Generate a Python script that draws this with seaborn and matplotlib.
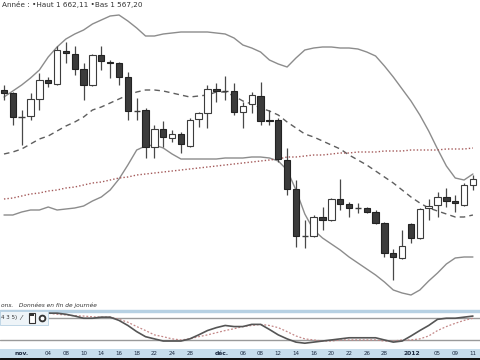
import matplotlib
matplotlib.use("Agg")
import numpy as np
import pandas as pd
import seaborn as sns
import matplotlib.pyplot as plt
from matplotlib.patches import Rectangle, Circle

# ---------------- data ----------------
dates = pd.bdate_range("2011-10-28", "2012-01-11")
opens = [1205, 1203.5, 1191.5, 1192, 1200.5, 1210, 1208, 1224.5, 1223, 1215.5,
         1207.5, 1222.5, 1219, 1218.5, 1211.5, 1194.5, 1195, 1176.5, 1185.5, 1181,
         1183, 1177, 1190.5, 1193.5, 1205.5, 1204.5, 1204.5, 1194, 1198, 1202,
         1190, 1190, 1170, 1155.5, 1132, 1132, 1141.5, 1140, 1150.5, 1148,
         1146, 1146, 1144, 1138.5, 1123.5, 1121, 1138, 1131, 1146, 1147.5,
         1151.5, 1149.5, 1147.5, 1157.5]
highs = [1207.5, 1204, 1195, 1203.5, 1213.5, 1211.5, 1227, 1229, 1227, 1218.5,
         1223, 1227, 1220, 1219, 1214, 1201, 1196, 1187.5, 1189.5, 1185,
         1184, 1191, 1194, 1207.5, 1208.5, 1212, 1208.5, 1199, 1204, 1209,
         1195, 1191, 1176, 1160, 1140, 1142.5, 1146.5, 1151, 1160.5, 1149,
         1148.5, 1146.5, 1145, 1139, 1125.5, 1135, 1138.5, 1146, 1150.5, 1154,
         1156, 1152.5, 1158.5, 1162.5]
lows = [1200, 1187.5, 1177.5, 1190, 1195, 1206.5, 1207.5, 1218.5, 1212.5, 1200,
        1207, 1215, 1211, 1207.5, 1190, 1190, 1171, 1171, 1176.5, 1179,
        1173.5, 1176.5, 1186.5, 1186, 1199, 1200, 1192.5, 1186, 1193.5, 1187.5,
        1187.5, 1169, 1152.5, 1126.5, 1126, 1131.5, 1135, 1139.5, 1145, 1141.5,
        1143.5, 1143.5, 1138, 1121.5, 1110, 1120.5, 1128.5, 1130.5, 1140, 1141.5,
        1146.5, 1144, 1147, 1155]
closes = [1203.5, 1191.5, 1191.5, 1200.5, 1210, 1208.5, 1225, 1223.5, 1215.5, 1207.5,
          1222.5, 1219.5, 1218.5, 1211.5, 1194.5, 1194.5, 1176.5, 1185.5, 1181.5, 1183,
          1178, 1190, 1193.5, 1205.5, 1204.5, 1204.5, 1194, 1197, 1202.5, 1189.5,
          1189.5, 1170.5, 1155.5, 1132, 1132, 1141.5, 1140, 1150.5, 1148, 1146,
          1146, 1144, 1138.5, 1123.5, 1121.5, 1127, 1131, 1145.5, 1147, 1151.5,
          1149.5, 1148.5, 1157.5, 1160.5]

boll_upper = [1201.5, 1204.5, 1207.5, 1211, 1215, 1221.5, 1226.5, 1230.5, 1233, 1235,
              1238, 1240, 1242, 1242.5, 1239.5, 1236, 1232, 1232, 1233, 1233.5,
              1234, 1234, 1234, 1234, 1233.5, 1233, 1231, 1227.5, 1226, 1224,
              1220, 1218, 1216.5, 1221, 1225, 1226, 1226.5, 1226.5, 1226, 1226,
              1225.5, 1224, 1222, 1217, 1211.5, 1205.5, 1199.5, 1192.5, 1184.5, 1175.5,
              1167, 1161, 1160, 1163]
boll_mid = [1173, 1174, 1175.5, 1178, 1180.5, 1182, 1184.5, 1187, 1189, 1191.5,
            1195, 1196.5, 1198.5, 1200.5, 1202.5, 1204, 1205, 1205, 1204.5, 1203.5,
            1202.5, 1201.5, 1202, 1202.5, 1204, 1204, 1202, 1199.5, 1198, 1196,
            1194.5, 1192.5, 1189, 1186, 1183, 1181.5, 1179.5, 1177.5, 1175.5, 1172.5,
            1170, 1167.5, 1164.5, 1161.5, 1158.5, 1155, 1151.5, 1148.5, 1146, 1144.5,
            1143, 1141.5, 1141.5, 1142.5]
boll_lower = [1142.5, 1142.5, 1144, 1145, 1145, 1146.5, 1145, 1145.5, 1146, 1147,
              1149.5, 1151.5, 1155, 1160.5, 1167.5, 1175, 1177, 1177.5, 1176, 1173,
              1170.5, 1170.5, 1170.5, 1170.5, 1170.5, 1171, 1171, 1171, 1171.5, 1171.5,
              1171, 1169.5, 1165, 1155, 1143, 1135, 1131, 1128, 1125, 1121.5,
              1118.5, 1115.5, 1112.5, 1109, 1105, 1103.5, 1102.5, 1105, 1109.5, 1113.5,
              1118, 1121, 1121.5, 1121.5]
ma_long = [1150.5, 1151, 1152, 1153, 1153.5, 1154.5, 1155, 1156, 1156.5, 1157.5,
           1158.5, 1159, 1160, 1161, 1161.5, 1162.5, 1163, 1163.5, 1164, 1164.5,
           1165, 1165.5, 1166, 1166.5, 1167, 1167.5, 1168, 1168.5, 1169, 1169.5,
           1170, 1170.5, 1171.5, 1171.5, 1172, 1172.5, 1172.5, 1173, 1173.5, 1173.5,
           1174, 1174, 1174, 1174.5, 1174.5, 1174.5, 1175, 1175, 1175, 1175,
           1175.5, 1175.5, 1175.5, 1176]

stoch_k = [94, 94, 94, 94, 94, 94, 94, 91, 86, 80,
           80, 83, 83, 74, 60, 43, 29, 23, 17, 17,
           17, 23, 34, 46, 54, 60, 57, 57, 63, 63,
           49, 34, 23, 14, 11, 14, 17, 20, 23, 26,
           26, 26, 26, 20, 14, 17, 31, 46, 60, 77,
           80, 80, 83, 86]
stoch_d = [94, 94, 94, 94, 94, 94, 91, 89, 87, 86,
           84, 83, 83, 77, 69, 57, 46, 34, 29, 23,
           20, 23, 29, 34, 40, 46, 51, 57, 60, 63,
           60, 54, 43, 31, 23, 20, 17, 17, 20, 20,
           20, 20, 20, 17, 17, 20, 20, 23, 31, 46,
           57, 66, 74, 80]

tick_pos = [2, 5, 7, 9, 11, 13, 15, 17, 19, 21, 24.6, 27, 29, 31, 33, 35, 37,
            39, 41, 43, 46.1, 49, 51, 53]
tick_labels = ["nov.", "04", "08", "10", "14", "16", "18", "22", "24", "28", "déc.",
               "06", "08", "12", "14", "16", "20", "22", "26", "28", "2012",
               "05", "09", "11"]
bold_labels = {"nov.", "déc.", "2012"}

title_text = "Année : •Haut 1 662,11 •Bas 1 567,20"
footer_text = "ons.   Données en fin de journée"
osc_label = "4 3 5)"

# ---------------- figure ----------------
sns.set_theme(style="white")
plt.rcParams["font.family"] = ["DejaVu Sans"]

W, H = 480, 360
fig = plt.figure(figsize=(4.8, 3.6), dpi=100)
fig.patch.set_facecolor("white")

def frac_y(px_top, px_bottom):
    return (H - px_bottom) / H, (px_bottom - px_top) / H

XLIM = (-0.45, 53.8)
idx = np.arange(len(opens))
df = pd.DataFrame({"i": idx, "date": dates[:len(opens)], "open": opens, "high": highs,
                   "low": lows, "close": closes, "upper": boll_upper, "mid": boll_mid,
                   "lower": boll_lower, "ma": ma_long, "k": stoch_k, "d": stoch_d})

# main price panel
b, h = frac_y(0, 305)
ax = fig.add_axes([0, b, 1, h])
ax.set_xlim(*XLIM)
ax.set_ylim(1097.5, 1250)
ax.axis("off")

sns.lineplot(data=df, x="i", y="upper", ax=ax, color="#8c8c8c", lw=1.0, zorder=1)
sns.lineplot(data=df, x="i", y="lower", ax=ax, color="#8c8c8c", lw=1.0, zorder=1)
sns.lineplot(data=df, x="i", y="mid", ax=ax, color="#5e5e5e", lw=1.0,
             dashes=False, linestyle=(0, (4, 3)), zorder=1)
sns.lineplot(data=df, x="i", y="ma", ax=ax, color="#a45a5a", lw=1.0,
             linestyle=(0, (1, 1.5)), zorder=1)

o = df["open"].values; c = df["close"].values
ax.vlines(df["i"], df["low"], df["high"], color="#484848", lw=0.9, zorder=2)
doji = o == c
up = (c > o)
dn = (c < o)
ax.bar(df["i"][up], (c - o)[up], bottom=o[up], width=0.72, color="white",
       edgecolor="#3c3c3c", lw=0.8, zorder=3)
ax.bar(df["i"][dn], (o - c)[dn], bottom=c[dn], width=0.72, color="#3b3b3b",
       edgecolor="#222222", lw=0.8, zorder=3)
ax.hlines(o[doji], df["i"][doji] - 0.36, df["i"][doji] + 0.36, color="#3c3c3c",
          lw=1.0, zorder=3)

fig.text(2 / W, 1 - 5 / H, title_text, fontsize=5.2, color="#333333",
         ha="left", va="center")

# separator and footer text
fig.text(1 / W, 1 - 305.5 / H, footer_text, fontsize=4.2, style="italic",
         color="#333333", ha="left", va="center")
fig.add_artist(Rectangle((0, (H - 311.5) / H), 1, 2 / H, transform=fig.transFigure,
                         color="#b7d1e3", zorder=0))

# oscillator panel
b, h = frac_y(311, 349)
ax2 = fig.add_axes([0, b, 1, h])
ax2.set_xlim(*XLIM)
ax2.set_ylim(-5, 100)
ax2.axis("off")
ax2.axhline(80, color="#9a9a9a", lw=1.0, zorder=1)
ax2.axhline(20, color="#9a9a9a", lw=1.0, zorder=1)
sns.lineplot(data=df, x="i", y="d", ax=ax2, color="#c48888", lw=0.9,
             linestyle=(0, (1.5, 1.5)), zorder=2)
sns.lineplot(data=df, x="i", y="k", ax=ax2, color="#555555", lw=1.2, zorder=3)

# oscillator toolbar box
ax2.add_patch(Rectangle((0, 0.62), 48 / W, 0.38, transform=ax2.transAxes,
                        facecolor="#eef4f8", edgecolor="#b7d1e3", lw=0.6, zorder=4))
ax2.text(1 / W, 0.82, osc_label, transform=ax2.transAxes, fontsize=4.0,
         color="#333333", ha="left", va="center", zorder=5)
ax2.text(20 / W, 0.82, "⁄", transform=ax2.transAxes, fontsize=5, color="#333",
         ha="left", va="center", zorder=5)
ax2.add_patch(Rectangle((29 / W, 0.68), 6 / W, 0.26, transform=ax2.transAxes,
                        facecolor="white", edgecolor="#333333", lw=0.8, zorder=5))
ax2.add_patch(Rectangle((30 / W, 0.86), 4 / W, 0.07, transform=ax2.transAxes,
                        facecolor="#333333", lw=0, zorder=6))
ax2.plot([42 / W], [0.81], marker="o", ms=4.5, mfc="#333333", mec="#333333",
         transform=ax2.transAxes, zorder=6)
ax2.plot([42 / W], [0.81], marker="o", ms=1.8, mfc="white", mec="white",
         transform=ax2.transAxes, zorder=7)

# date band
b, h = frac_y(349, 358)
ax3 = fig.add_axes([0, b, 1, h])
ax3.set_xlim(*XLIM)
ax3.set_ylim(0, 1)
ax3.set_facecolor("#c7ddec")
for s in ax3.spines.values():
    s.set_visible(False)
ax3.set_xticks([]); ax3.set_yticks([])
for p, lab in zip(tick_pos, tick_labels):
    ax3.text(p, 0.5, lab, fontsize=4.3 if lab in bold_labels else 4.0,
             fontweight="bold" if lab in bold_labels else "normal",
             color="#1c2a40", ha="center", va="center")

fig.add_artist(Rectangle((0, 0), 1, 2 / H, transform=fig.transFigure,
                         color="#111111", zorder=0))

fig.savefig("out.png", dpi=100, facecolor="white")
